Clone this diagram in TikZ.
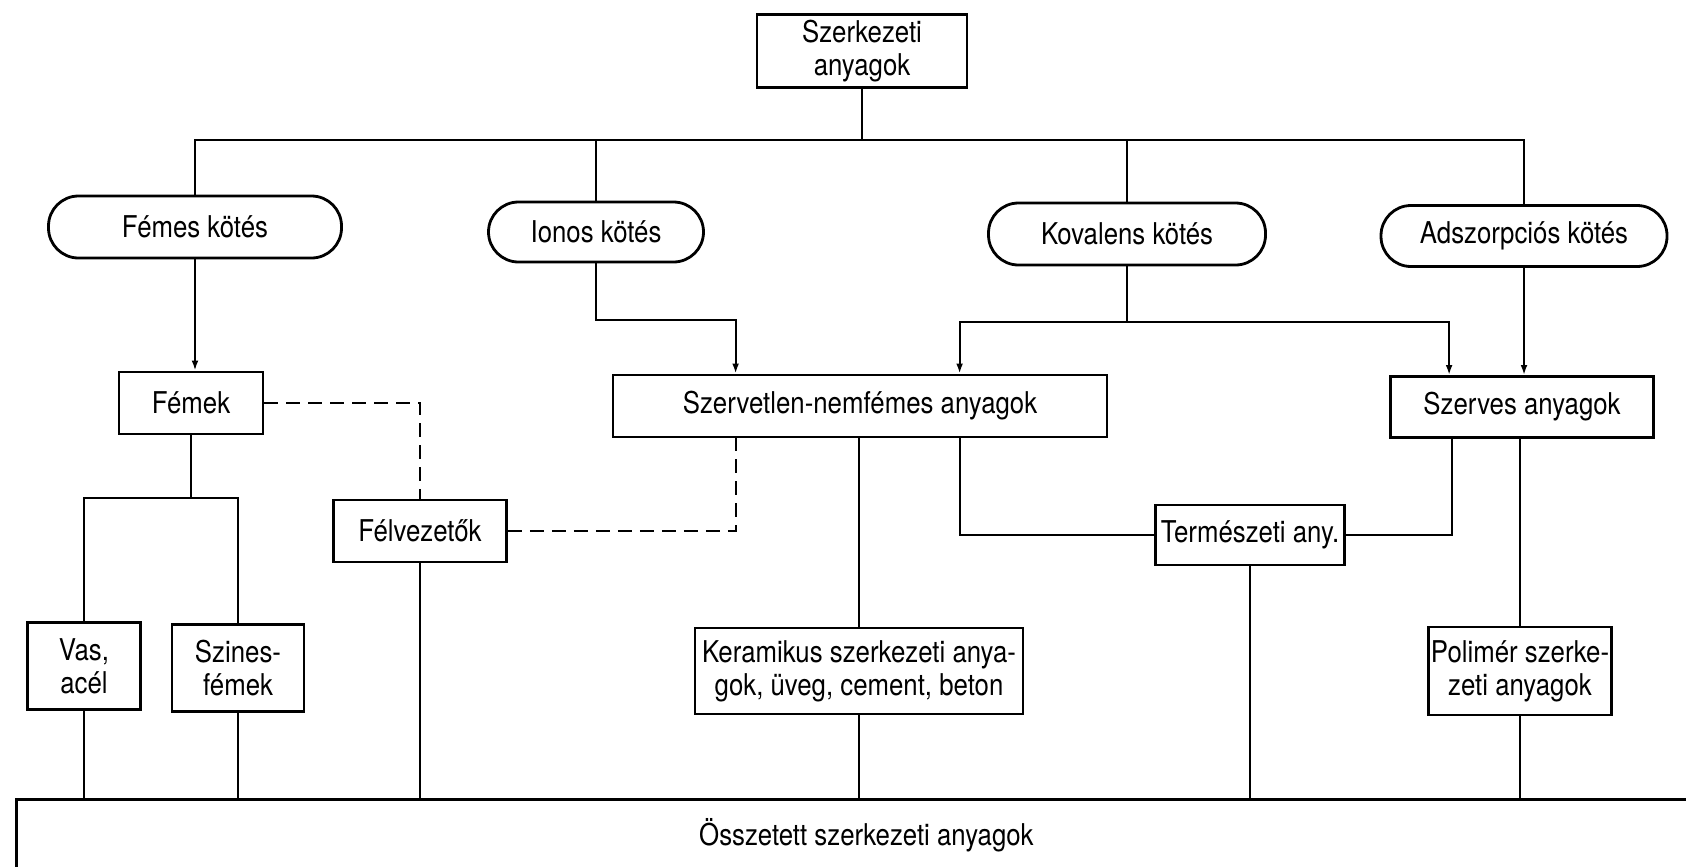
\documentclass[tikz,border=0pt]{standalone}
\usepackage{fontspec}
\setmainfont{TeX Gyre Heros}[FakeStretch=0.86]
\usetikzlibrary{arrows.meta}
\usetikzlibrary{calc}

\begin{document}
\begin{tikzpicture}[x=0.5pt,y=0.5pt,yscale=-1,xscale=1,
  box/.style={draw, line width=1.4pt, inner sep=0pt, align=center,
    font=\fontsize{15pt}{16.5pt}\selectfont},
  bond/.style={box, rounded corners=15pt},
  link/.style={line width=1pt},
  arr/.style={link, -{Latex[length=5pt,width=3.4pt]}},
  dlink/.style={link, dash pattern=on 7pt off 4pt}]
\useasboundingbox (0,0) rectangle (1686,867);
\clip (0,0) rectangle (1686,867);

% Text Node
\node[box, minimum width=105pt, minimum height=36.5pt] (top) at (862,51) {Szerkezeti\\anyagok};
% Bond types
\node[bond, minimum width=146.5pt, minimum height=31pt] (femes) at (195,227) {Fémes kötés};
\node[bond, minimum width=107.5pt, minimum height=30pt] (ionos) at (596,232) {Ionos kötés};
\node[bond, minimum width=138.5pt, minimum height=31pt] (koval) at (1127,234) {Kovalens kötés};
\node[bond, minimum width=143pt, minimum height=30.5pt] (adsz) at (1524,236) {Adszorpciós kötés};
% Material groups
\node[box, minimum width=72pt, minimum height=31pt] (femek) at (191,403) {Fémek};
\node[box, minimum width=86.5pt, minimum height=31pt] (felv) at (420,531) {Félvezetők};
\node[box, minimum width=247pt, minimum height=31pt] (szerv) at (860,406) {Szervetlen-nemfémes anyagok};
\node[box, minimum width=131.5pt, minimum height=30.5pt] (szerves) at (1522,407) {Szerves anyagok};
\node[box, minimum width=94.5pt, minimum height=30pt] (term) at (1250,535) {Természeti any.};
% Structural materials
\node[box, minimum width=56.5pt, minimum height=43.5pt] (vas) at (84,666) {Vas,\\acél};
\node[box, minimum width=66pt, minimum height=43.5pt] (szines) at (238,668) {Szines-\\fémek};
\node[box, minimum width=164pt, minimum height=43pt] (keram) at (859,671) {Keramikus szerkezeti anya-\\gok, üveg, cement, beton};
\node[box, minimum width=91.5pt, minimum height=44pt] (polim) at (1520,671) {Polimér szerke-\\zeti anyagok};
% Text Node
\node[box, minimum width=850pt, minimum height=36pt, anchor=north west] (base) at (15,798) {Összetett szerkezeti anyagok};

%Straight Lines
\coordinate (bus) at (862,140);
\draw[link] (top.south) -- (bus);
\draw[link] (femes.north) |- (bus) -| (adsz.north);
\draw[link] (ionos.north) -- (ionos.north |- bus);
\draw[link] (koval.north) -- (koval.north |- bus);
\draw[arr] (femes.south) -- (femes.south |- femek.north);
\draw[arr] (ionos.south) -- ++(0,57) -| ($(szerv.north west)+(124,0)$);
\draw[arr] (koval.south) -- ++(0,56) -| ($(szerv.north west)+(348,0)$);
\draw[arr] (koval.south) -- ++(0,56) -| ($(szerves.north west)+(60,0)$);
\draw[arr] (adsz.south) -- (adsz.south |- szerves.north);
%Dashed Lines
\draw[dlink] (femek.east) -| (felv.north);
\draw[dlink] (felv.east) -| ($(szerv.south west)+(124,0)$);
%Straight Lines
\draw[link] (femek.south) -- ++(0,63) coordinate (fj);
\draw[link] (vas.north) |- (fj) -| (szines.north);
\draw[link] (keram.north |- szerv.south) -- (keram.north);
\draw[link] ($(szerv.south west)+(348,0)$) |- (term.west);
\draw[link] (term.east) -| ($(szerves.south west)+(63,0)$);
\draw[link] (polim.north |- szerves.south) -- (polim.north);
\foreach \n in {vas,szines,felv,keram,term,polim}
  \draw[link] (\n.south) -- (\n.south |- base.north);

\end{tikzpicture}
\end{document}
